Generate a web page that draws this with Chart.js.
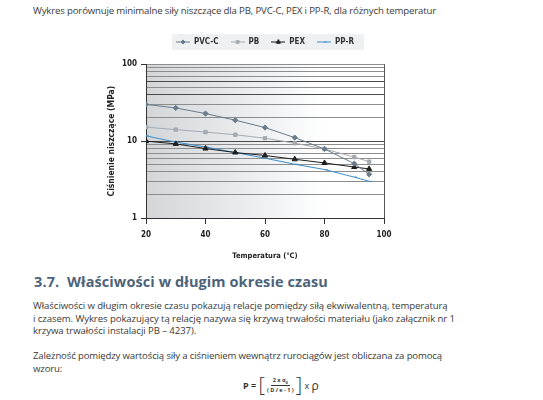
<!DOCTYPE html>
<html>
<head>
<meta charset="utf-8">
<script src="https://cdn.jsdelivr.net/npm/chart.js@4.4.0/dist/chart.umd.min.js"></script>
<style>
  body { margin: 0; background: #fff; width: 543px; height: 400px; overflow: hidden; position: relative;
         font-family: "Open Sans", sans-serif; color: #3a3a3a; }
  .txt { position: absolute; left: 33px; font-size: 9.6px; white-space: nowrap; letter-spacing: -0.15px; }
  #intro { top: 4px; }
  #head { position: absolute; left: 34px; top: 272px; font-size: 14.5px; font-weight: bold; color: #4d6379;
          white-space: nowrap; letter-spacing: 0.1px; }
  #p1 { top: 300px; line-height: 12.5px; letter-spacing: -0.08px; }
  #p2 { top: 350px; line-height: 12.5px; }
  #wrap { position: absolute; left: 95px; top: 18px; width: 310px; height: 245px; }
  #formula { position: absolute; left: 243px; top: 375px; font-size: 9px; display: flex; align-items: center; color: #333; }
  .br { font-size: 20px; font-weight: 300; line-height: 20px; }
  .frac { display: inline-flex; flex-direction: column; align-items: center; font-size: 5.5px; font-weight: bold; margin: 0 2px; }
  .frac span:first-child { border-bottom: 0.8px solid #333; padding: 0 2px; }
</style>
</head>
<body>
<div class="txt" id="intro">Wykres porównuje minimalne siły niszczące dla PB, PVC-C, PEX i PP-R, dla różnych temperatur</div>
<div id="wrap"><canvas id="myChart"></canvas></div>
<div id="head">3.7.&nbsp; Właściwości w długim okresie czasu</div>
<div class="txt" id="p1">Właściwości w długim okresie czasu pokazują relacje pomiędzy siłą ekwiwalentną, temperaturą<br>i czasem. Wykres pokazujący tą relację nazywa się krzywą trwałości materiału (jako załącznik nr 1<br>krzywa trwałości instalacji PB – 4237).</div>
<div class="txt" id="p2">Zależność pomiędzy wartością siły a ciśnieniem wewnątrz rurociągów jest obliczana za pomocą<br>wzoru:</div>
<div id="formula"><b style="font-size:9px">P =&nbsp;</b><span class="br">[</span><span class="frac"><span>2 x σ<sub style="font-size:4px">0</sub></span><span>( D / e - 1 )</span></span><span class="br">]</span>&nbsp;x&nbsp;<span style="font-size:12px">ρ</span></div>
<script>
const temps = [20, 30, 40, 50, 60, 70, 80, 90, 95];
const seriesNames = ['PVC-C', 'PB', 'PEX', 'PP-R'];
const pvcc = [30, 27, 22.8, 18.7, 15, 11.1, 7.9, 5.1, 3.7];
const pb = [15.2, 14.1, 13.1, 12.1, 10.9, 9.4, 7.9, 6.2, 5.4];
const pex = [10, 9.2, 8.0, 7.1, 6.5, 5.8, 5.2, 4.6, 4.35];
const ppr = [11.7, 9.7, 8.4, 7.1, 6.0, 5.0, 4.27, 3.4, 3.0];
const xTicks = [20, 40, 60, 80, 100];
const yTicks = [1, 2, 3, 4, 5, 6, 7, 8, 9, 10, 20, 30, 40, 50, 60, 70, 80, 90, 100];
const yLabels = [1, 10, 100];

const colors = ['#6a7b8b', '#a3abb1', '#1e1e1e', '#3b8ecb'];
const styles = ['rectRot', 'rect', 'triangle', 'dash'];
const radii = [2.6, 2.4, 3, 3];
const allData = [pvcc, pb, pex, ppr];

const font = { family: '"DejaVu Sans Condensed", "DejaVu Sans", sans-serif', weight: 'bold', size: 8 };

// little legend pictures: line with marker in the middle
function legendIcon(i) {
  const c = document.createElement('canvas');
  c.width = 14; c.height = 8;
  const ctx = c.getContext('2d');
  ctx.strokeStyle = colors[i];
  ctx.fillStyle = colors[i];
  ctx.lineWidth = 1;
  ctx.beginPath(); ctx.moveTo(0, 4); ctx.lineTo(14, 4); ctx.stroke();
  Chart.helpers.drawPoint(ctx, { pointStyle: styles[i], radius: radii[i] * 0.8, borderWidth: 1 }, 7, 4);
  ctx.fill();
  return c;
}

const bgPlugin = {
  id: 'bg',
  beforeDraw(chart) {
    const { ctx, chartArea: a, legend } = chart;
    ctx.save();
    // legend box
    const hb = legend.legendHitBoxes;
    if (hb && hb.length) {
      const l = Math.min(...hb.map(h => h.left)) - 4;
      const r = Math.max(...hb.map(h => h.left + h.width)) + 10;
      ctx.fillStyle = '#eef0f2';
      ctx.fillRect(l, hb[0].top - 4, r - l, 16);
    }
    // plot gradient
    const g = ctx.createLinearGradient(a.left, 0, a.right, 0);
    g.addColorStop(0, '#d3d6d9');
    g.addColorStop(0.45, '#eceef0');
    g.addColorStop(0.75, '#ffffff');
    g.addColorStop(1, '#ffffff');
    ctx.fillStyle = g;
    ctx.fillRect(a.left, a.top, a.right - a.left, a.bottom - a.top);
    ctx.restore();
  },
  afterDatasetsDraw(chart) {
    const { ctx, chartArea: a } = chart;
    ctx.save();
    ctx.strokeStyle = '#555';
    ctx.lineWidth = 1;
    ctx.beginPath();
    ctx.moveTo(a.right + 0.5, a.top); ctx.lineTo(a.right + 0.5, a.bottom);
    ctx.stroke();
    ctx.restore();
  }
};

const data = {
  labels: temps,
  datasets: seriesNames.map((n, i) => ({
    label: n,
    data: temps.map((t, j) => ({ x: t, y: allData[i][j] })),
    borderColor: colors[i],
    backgroundColor: colors[i],
    borderWidth: 1,
    pointStyle: styles[i],
    pointRadius: radii[i],
    pointBorderWidth: 1,
    tension: 0
  }))
};

const options = {
  responsive: true,
  maintainAspectRatio: false,
  animation: false,
  layout: { padding: { left: 0, right: 21, top: 8, bottom: 2 } },
  plugins: {
    legend: {
      position: 'top',
      fullSize: false,
      weight: 3000,
      labels: {
        color: '#333',
        font: font,
        padding: 12,
        boxWidth: 14,
        boxHeight: 8,
        usePointStyle: true,
        pointStyleWidth: 14,
        generateLabels: chart => chart.data.datasets.map((d, i) => ({
          text: d.label,
          pointStyle: legendIcon(i),
          fontColor: '#333',
          strokeStyle: colors[i],
          fillStyle: colors[i],
          lineWidth: 0,
          datasetIndex: i
        }))
      }
    },
    // empty spacer between legend and plot
    subtitle: { display: true, text: '', fullSize: false, font: { size: 1 }, padding: { top: 0, bottom: 7 } },
    tooltip: { enabled: false }
  },
  scales: {
    x: {
      type: 'linear',
      min: 20, max: 100,
      afterBuildTicks: s => { s.ticks = xTicks.map(v => ({ value: v })); },
      ticks: { color: '#222', font: font, padding: 6 },
      grid: { drawOnChartArea: false, tickLength: 6, color: '#333', offset: false },
      border: { color: '#333' },
      title: { display: true, text: 'Temperatura (°C)', color: '#222', font: { ...font, size: 7.5 }, padding: { top: 4, bottom: 0 } },
      afterFit: s => { s.height = 43; }
    },
    y: {
      type: 'logarithmic',
      min: 1, max: 100,
      afterBuildTicks: s => { s.ticks = yTicks.map(v => ({ value: v })); },
      ticks: {
        color: '#222', font: font, padding: 4, autoSkip: false,
        callback: v => yLabels.includes(v) ? String(v) : ''
      },
      grid: {
        tickLength: 5,
        color: c => [10, 40, 60].includes(c.tick.value) ? '#4a4a4a' : '#8d8d8d',
        tickColor: c => yLabels.includes(c.tick.value) ? '#333' : 'rgba(0,0,0,0)'
      },
      border: { color: '#333' },
      title: { display: true, text: 'Ciśnienie niszczące (MPa)', color: '#222', font: { ...font, size: 8.5 }, padding: { top: 12, bottom: 0 } },
      afterFit: s => { s.width = 51; }
    }
  }
};

const config = { type: 'line', data: data, options: options, plugins: [bgPlugin] };

let myChart = new Chart(document.querySelector('#myChart'), config);
</script>
</body>
</html>
